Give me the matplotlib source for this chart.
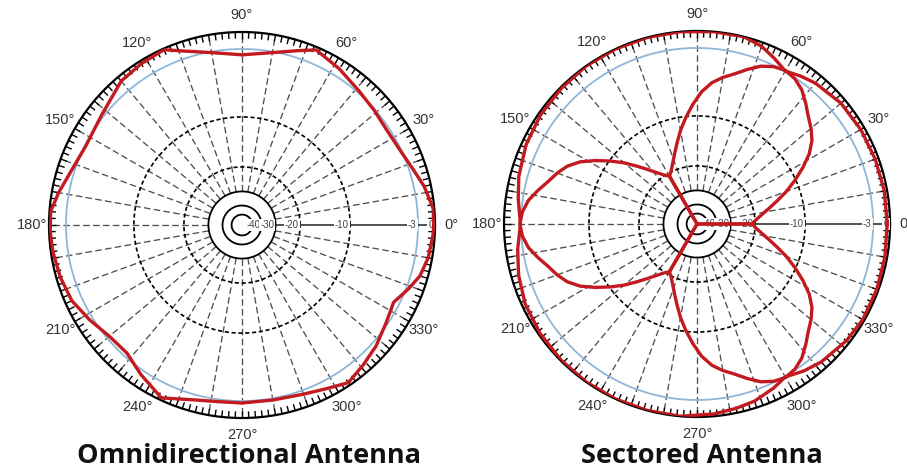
import numpy as np
import matplotlib.pyplot as plt

# grid levels in dB and the matching radius (fraction of the outer ring)
ring_db = [-60, -50, -40, -30, -20, -10, -3, 0]
ring_frac = [0.0, 0.054, 0.101, 0.174, 0.301, 0.560, 0.912, 1.0]

# omnidirectional pattern: azimuth (deg) -> gain (dB)
omni_angle = [0, 5, 12, 18, 25, 33, 41, 49, 58, 67, 72, 80, 90, 100, 108, 114,
              122, 130, 142, 153, 162, 170, 176, 182, 188, 196, 204, 212, 220,
              228, 236, 245, 255, 262, 270, 280, 290, 297, 304, 311, 318, 326,
              333, 339, 344, 350, 357, 360]
omni_db = [-0.2, -0.2, -1.2, -2.3, -3.1, -3.3, -3.1, -2.65, -1.6, -0.5, -1.7,
           -3.1, -3.6, -3.1, -1.8, -0.2, -0.5, -0.9, -2.6, -3.1, -2.5, -1.2,
           -0.2, -0.2, -0.35, -0.7, -1.2, -2.4, -3.3, -3.4, -2.2, -0.4, -2.1,
           -2.6, -2.65, -2.7, -2.3, -1.6, -0.5, -1.4, -2.2, -3.2, -3.6, -2.6,
           -1.4, -0.7, -0.3, -0.2]

# one sector beam, offset from its boresight (deg) -> gain (dB)
lobe_offset = [-60, -60, -56, -52, -48, -44, -40, -36, -32, -28, -24, -20, -16,
               -12, -8, -4, 0, 4, 8, 12, 16, 20, 24, 28, 32, 36, 40, 44, 48, 52,
               56, 60, 60]
lobe_db = [-60, -21.2, -19.8, -18.6, -17.0, -15.0, -12.6, -10.2, -8.8, -7.5,
           -6.5, -5.8, -5.2, -4.4, -3.6, -3.1, -2.8, -3.1, -3.6, -4.4, -5.2,
           -5.8, -6.5, -7.5, -8.8, -10.2, -12.6, -15.0, -17.0, -18.6, -19.8,
           -21.2, -60]
sector_azimuth = [60, 180, 300]

# combined coverage of the three sectors
env_angle = [0, 10, 20, 30, 40, 50, 55, 60, 65, 70, 76, 85, 95, 105, 115, 125,
             135, 145, 155, 165, 172, 180, 188, 196, 205, 215, 225, 235, 245,
             255, 265, 275, 282, 288, 295, 300, 306, 312, 322, 330, 340, 350, 360]
env_db = [-0.5, -0.5, -0.6, -0.7, -0.9, -1.6, -2.2, -2.9, -1.8, -0.7, 0, 0, 0,
          0, 0, 0, -0.2, -0.4, -0.8, -1.5, -2.2, -2.9, -2.1, -1.3, -0.6, -0.3,
          -0.1, 0, 0, 0, 0, -0.4, -0.8, -1.2, -2.1, -2.9, -2.0, -1.3, -0.6,
          -0.3, -0.3, -0.4, -0.5]

angle_ticks = list(range(0, 360, 30))
level_labels = [-40, -30, -20, -10, -3, 0]

RED = '#c21a1f'
BLUE = '#8fb5d8'
TICK_IN = 0.966


def db_to_r(db):
    return np.interp(db, ring_db, ring_frac)


def polar_grid(ax):
    ax.set_ylim(0, 1)
    ax.grid(False)
    ax.set_yticks([])
    ax.set_thetagrids(angle_ticks, labels=[f'{a}°' for a in angle_ticks],
                      family='Liberation Sans')
    ax.tick_params(axis='x', length=0, pad=5, labelsize=10.5, labelcolor='#333333')
    ax.spines['polar'].set_linewidth(1.6)

    # fine azimuth ticks on the rim
    ax.vlines(np.deg2rad(np.arange(0, 360, 2)), TICK_IN, 1.0, color='black', lw=1.0)

    th = np.linspace(0, 2 * np.pi, 721)
    ax.plot(th, np.full_like(th, db_to_r(-3)), color=BLUE, lw=1.3, zorder=2)
    for lvl in [-10, -20]:
        ax.plot(th, np.full_like(th, db_to_r(lvl)), color='black', lw=1.2,
                ls=(0, (2.5, 1.6)), zorder=2)
    for lvl in [-30, -40, -50]:
        ax.plot(th, np.full_like(th, db_to_r(lvl)), color='black', lw=1.3, zorder=2)

    r_inner = db_to_r(-30)
    for a in range(10, 360, 10):
        t = np.deg2rad(a)
        ax.plot([t, t], [r_inner, 1.0], color='#505050', lw=0.95,
                ls=(0, (5, 2.5)), zorder=1)
    ax.plot([0, 0], [r_inner, 1.0], color='#333333', lw=1.2, zorder=2)

    for lvl in level_labels:
        ax.annotate(str(lvl), xy=(0, db_to_r(lvl)), xytext=(-1, 0),
                    textcoords='offset points', ha='right', va='center',
                    fontsize=7, family='Liberation Sans', color='#444444',
                    bbox=dict(boxstyle='square,pad=0.1', fc='white', ec='none'),
                    zorder=4)


fig = plt.figure(figsize=(9.07, 4.70), dpi=100)
ax_omni = fig.add_axes([0.054, 0.1106, 0.4256, 0.8213], projection='polar')
ax_sect = fig.add_axes([0.5557, 0.1128, 0.4256, 0.8213], projection='polar')

polar_grid(ax_omni)
ax_omni.plot(np.deg2rad(omni_angle), db_to_r(omni_db), color=RED, lw=2.4, zorder=5)

polar_grid(ax_sect)
ax_sect.plot(np.deg2rad(env_angle), db_to_r(env_db), color=RED, lw=2.4, zorder=5)
for az in sector_azimuth:
    ax_sect.plot(np.deg2rad(np.array(lobe_offset) + az), db_to_r(lobe_db),
                 color=RED, lw=2.4, zorder=5)

fig.text(0.2745, 0.003, 'Omnidirectional Antenna', ha='center', va='bottom',
         fontsize=19.5, fontweight='bold', family='Open Sans', color='#111111')
fig.text(0.774, 0.003, 'Sectored Antenna', ha='center', va='bottom',
         fontsize=19.5, fontweight='bold', family='Open Sans', color='#111111')

fig.savefig('out.png', dpi=100)
